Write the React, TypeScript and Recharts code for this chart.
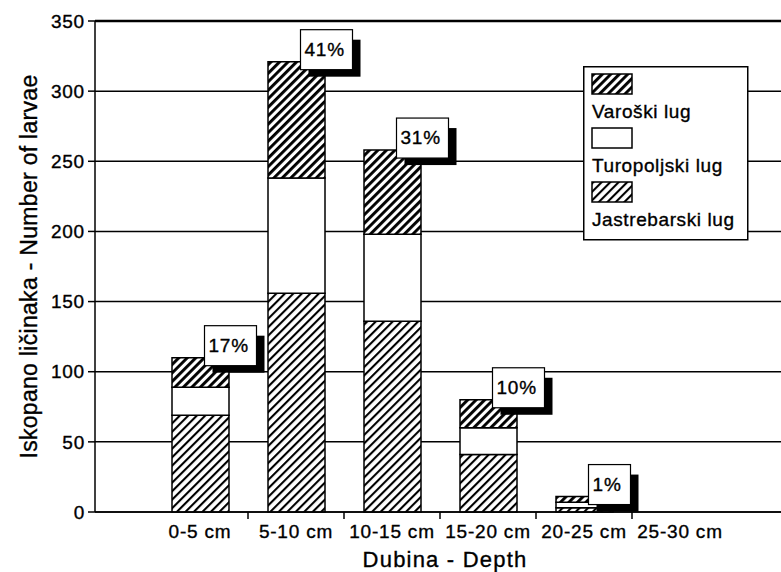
import React from "react";
import {
  BarChart, Bar, XAxis, YAxis, CartesianGrid, Legend, LabelList, ReferenceLine,
} from "recharts";

// depth classes
const categories = ["0-5 cm", "5-10 cm", "10-15 cm", "15-20 cm", "20-25 cm", "25-30 cm"];
// larvae dug up per site (stacked bottom -> top)
const jastrebarski = [69, 156, 136, 41, 3, null];
const turopoljski = [20, 82, 62, 19, 4, null];
const varoski = [21, 83, 60, 20, 4, null];
// share of all larvae per depth
const shares = [17, 41, 31, 10, 1, null];
const yTicks = [0, 50, 100, 150, 200, 250, 300, 350];

const data = categories.map((cat, i) => ({
  cat,
  jas: jastrebarski[i],
  tur: turopoljski[i],
  var: varoski[i],
  pct: shares[i],
}));

const FONT = "Liberation Sans, Arial, sans-serif";
// scanned print looks a bit heavier than plain regular weight
const INK = { fill: "#000", stroke: "#000", strokeWidth: 0.35 };

const Hatches = ({ prefix }: { prefix: string }) => (
  <defs>
    <pattern id={`${prefix}-dense`} width="6" height="6" patternUnits="userSpaceOnUse" patternTransform="rotate(-45)">
      <rect width="6" height="6" fill="#fff" />
      <rect width="6" height="2.9" fill="#000" />
    </pattern>
    <pattern id={`${prefix}-light`} width="6" height="6" patternUnits="userSpaceOnUse" patternTransform="rotate(-45)">
      <rect width="6" height="6" fill="#fff" />
      <rect width="6" height="2.1" fill="#000" />
    </pattern>
  </defs>
);

const legendItems = [
  { name: "Varoški lug", fill: "url(#lg-dense)" },
  { name: "Turopoljski lug", fill: "#fff" },
  { name: "Jastrebarski lug", fill: "url(#lg-light)" },
];

const LegendBox = () => (
  <svg width={166} height={175} style={{ display: "block" }}>
    <Hatches prefix="lg" />
    <rect x={0.75} y={0.75} width={164} height={173} fill="#fff" stroke="#000" strokeWidth={1.5} />
    {legendItems.map((it, i) => (
      <g key={it.name} transform={`translate(0, ${i * 54})`}>
        <rect x={9} y={8} width={40} height={20} fill={it.fill} stroke="#000" strokeWidth={1.5} />
        <text x={9} y={52} fontFamily={FONT} fontSize={19} letterSpacing={0.6} {...INK}>{it.name}</text>
      </g>
    ))}
  </svg>
);

const DepthTick = ({ x, y, payload }: any) => {
  const half = payload.offset || 48;
  return (
    <g>
      {payload.index > 0 && (
        <line x1={x - half} y1={y} x2={x - half} y2={y + 7} stroke="#000" strokeWidth={1.5} />
      )}
      <text x={x} y={y + 26} textAnchor="middle" fontFamily={FONT} fontSize={19} letterSpacing={0.8} {...INK}>
        {payload.value}
      </text>
    </g>
  );
};

const ShareBox = ({ x, y, width, value }: any) => {
  if (value == null) return null;
  const w = value >= 10 ? 52 : 42;
  const h = 40;
  const left = x + width / 2 + 4;
  const top = y + 8 - h;
  return (
    <g>
      <rect x={left + 8} y={top + 10} width={w} height={h - 3} fill="#000" />
      <rect x={left} y={top} width={w} height={h} fill="#fff" stroke="#000" strokeWidth={1.2} />
      <text x={left + 4} y={top + 26} fontFamily={FONT} fontSize={19} letterSpacing={0.8} {...INK}>{value}%</text>
    </g>
  );
};

export default function App() {
  return (
    <div style={{ position: "absolute", left: 0, top: 0, background: "#fff" }}>
      <BarChart width={781} height={572} data={data} margin={{ top: 21, right: 0, bottom: 0, left: 0 }}>
        <Hatches prefix="bar" />
        <CartesianGrid vertical={false} stroke="#000" strokeWidth={1.5} />
        <ReferenceLine y={350} stroke="#000" strokeWidth={2.5} />
        <XAxis
          dataKey="cat"
          height={60}
          padding={{ left: 57, right: 53 }}
          axisLine={{ stroke: "#000", strokeWidth: 1.5 }}
          tickLine={false}
          tickSize={0}
          tickMargin={0}
          interval={0}
          tick={<DepthTick />}
          label={({ viewBox }: any) => (
            <text x={viewBox.x + viewBox.width / 2 + 7} y={viewBox.y + 55} textAnchor="middle" fontFamily={FONT} fontSize={22} letterSpacing={1.2} {...INK}>
              Dubina - Depth
            </text>
          )}
        />
        <YAxis
          width={95}
          domain={[0, 350]}
          ticks={yTicks}
          interval={0}
          axisLine={{ stroke: "#000", strokeWidth: 1.5 }}
          tickLine={{ stroke: "#000", strokeWidth: 1.5 }}
          tickSize={7}
          tickMargin={3}
          tick={{ fontSize: 19, fontFamily: FONT, letterSpacing: 0.8, ...INK }}
          label={({ viewBox }: any) => {
            const bx = viewBox.x + 37;
            const cy = viewBox.y + viewBox.height / 2;
            return (
              <text x={bx} y={cy} transform={`rotate(-90, ${bx}, ${cy})`} textAnchor="middle" fontFamily={FONT} fontSize={23} letterSpacing={0.3} {...INK}>
                Iskopano ličinaka - Number of larvae
              </text>
            );
          }}
        />
        <Legend
          layout="vertical"
          align="center"
          verticalAlign="middle"
          content={() => <LegendBox />}
          wrapperStyle={{ left: 583, top: 66, width: 166, height: 175 }}
        />
        <Bar dataKey="jas" name="Jastrebarski lug" stackId="a" barSize={57} fill="url(#bar-light)" stroke="#000" strokeWidth={1.5} isAnimationActive={false} />
        <Bar dataKey="tur" name="Turopoljski lug" stackId="a" barSize={57} fill="#fff" stroke="#000" strokeWidth={1.5} isAnimationActive={false} />
        <Bar dataKey="var" name="Varoški lug" stackId="a" barSize={57} fill="url(#bar-dense)" stroke="#000" strokeWidth={1.5} isAnimationActive={false}>
          <LabelList dataKey="pct" content={<ShareBox />} />
        </Bar>
      </BarChart>
    </div>
  );
}
